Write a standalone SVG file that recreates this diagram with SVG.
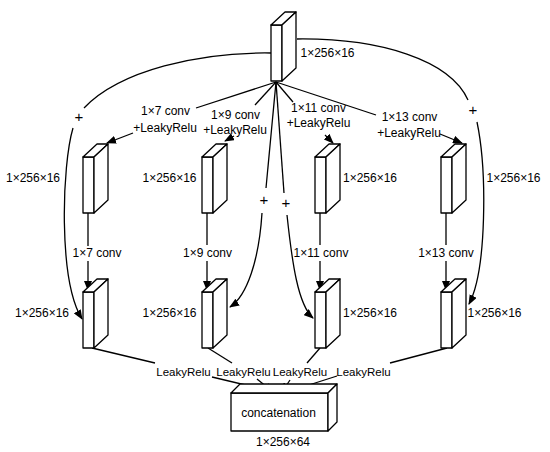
<svg xmlns="http://www.w3.org/2000/svg" xmlns:xlink="http://www.w3.org/1999/xlink" width="550" height="452" viewBox="0 0 550 452">
<style>
.b{fill:#fff;stroke:#000;stroke-width:1.3;stroke-linejoin:round}
.c{fill:none;stroke:#000;stroke-width:1.3}
.a{marker-end:url(#ah)}
text{font-family:"Liberation Sans",Arial,sans-serif;font-size:12px;fill:#000;text-anchor:middle}
.p{font-size:15px}
.s{font-size:11.5px}
</style>
<defs>
<marker id="ah" markerUnits="userSpaceOnUse" markerWidth="10" markerHeight="8" refX="9" refY="4" orient="auto">
<path d="M0,0 L10,4 L0,8 Z" fill="#000"/>
</marker>
<g id="blk">
<path class="b" d="M0,0 h11 v56 h-11 Z"/>
<path class="b" d="M0,0 l14,-13 h11 l-14,13 Z"/>
<path class="b" d="M11,0 l14,-13 v56 l-14,13 Z"/>
</g>
</defs>
<g id="connectors">
<path class="c" d="M271,53 C200,52 120,70 84,108"/>
<path class="c a" d="M73,128 C62,165 58,280 82,319"/>
<path class="c" d="M297,39 C380,38 450,60 468,100"/>
<path class="c a" d="M477,122 C487,170 487,270 469,304"/>
<path class="c" d="M276,82 L196,108"/>
<path class="c" d="M276,82 L255,105"/>
<path class="c" d="M276,82 L293,102"/>
<path class="c" d="M276,82 L376,115"/>
<path class="c" d="M276,82 L266,188"/>
<path class="c" d="M276,82 L284,193"/>
<path class="c a" d="M262,213 C259,260 247,296 230,307"/>
<path class="c a" d="M287,215 C292,262 298,305 313,318"/>
<path class="c a" d="M133,133 L107,143"/>
<path class="c a" d="M234,136 L225,141"/>
<path class="c a" d="M325,135 L333,143"/>
<path class="c a" d="M440,134 L462,143"/>
<path class="c" d="M88,213 V246"/>
<path class="c a" d="M88,261 V290"/>
<path class="c" d="M207,213 V245"/>
<path class="c a" d="M207,261 V290"/>
<path class="c" d="M320,213 V245"/>
<path class="c a" d="M320,261 V290"/>
<path class="c" d="M446,213 V245"/>
<path class="c a" d="M446,261 V290"/>
<path class="c" d="M92,348 L155,363"/>
<path class="c a" d="M212,377 L275,392"/>
<path class="c" d="M208,348 L232,363"/>
<path class="c a" d="M257,379 L273,392"/>
<path class="c" d="M320,348 L307,363"/>
<path class="c a" d="M290,380 L282,392"/>
<path class="c" d="M447,348 L390,363"/>
<path class="c a" d="M337,376 L287,392"/>
</g>
<g id="input"><use xlink:href="#blk" x="271" y="25"/><text x="327.5" y="57">1×256×16</text></g>
<g id="b7a"><use xlink:href="#blk" x="83" y="157"/><text x="33" y="182">1×256×16</text></g>
<g id="b9a"><use xlink:href="#blk" x="202" y="157"/><text x="169.5" y="182">1×256×16</text></g>
<g id="b11a"><use xlink:href="#blk" x="315" y="157"/><text x="370" y="182">1×256×16</text></g>
<g id="b13a"><use xlink:href="#blk" x="441" y="157"/><text x="513.5" y="182">1×256×16</text></g>
<g id="b7b"><use xlink:href="#blk" x="83" y="292"/><text x="42" y="317">1×256×16</text></g>
<g id="b9b"><use xlink:href="#blk" x="202" y="292"/><text x="169.5" y="317">1×256×16</text></g>
<g id="b11b"><use xlink:href="#blk" x="315" y="292"/><text x="370" y="317">1×256×16</text></g>
<g id="b13b"><use xlink:href="#blk" x="441" y="292"/><text x="494.5" y="317">1×256×16</text></g>
<g id="concat">
<path class="b" d="M231,393 h97 v38 h-97 Z"/>
<path class="b" d="M231,393 l9,-9 h97 l-9,9 Z"/>
<path class="b" d="M328,393 l9,-9 v38 l-9,9 Z"/>
<text x="278.5" y="417">concatenation</text>
<text x="283" y="446">1×256×64</text>
</g>
<g id="labels">
<text x="165.5" y="115">1×7 conv</text>
<text x="165" y="132">+LeakyRelu</text>
<text x="235.5" y="119">1×9 conv</text>
<text x="235" y="134">+LeakyRelu</text>
<text x="318.5" y="112">1×11 conv</text>
<text x="318.5" y="127">+LeakyRelu</text>
<text x="409.5" y="121">1×13 conv</text>
<text x="409" y="137">+LeakyRelu</text>
<text class="p" x="79" y="122">+</text>
<text class="p" x="473" y="115">+</text>
<text class="p" x="264" y="205">+</text>
<text class="p" x="286" y="208">+</text>
<text x="97" y="257">1×7 conv</text>
<text x="207.5" y="257">1×9 conv</text>
<text x="321" y="257">1×11 conv</text>
<text x="446" y="257">1×13 conv</text>
<text class="s" x="183.5" y="376">LeakyRelu</text>
<text class="s" x="243.5" y="376">LeakyRelu</text>
<text class="s" x="300" y="376">LeakyRelu</text>
<text class="s" x="363.5" y="376">LeakyRelu</text>
</g>
</svg>
